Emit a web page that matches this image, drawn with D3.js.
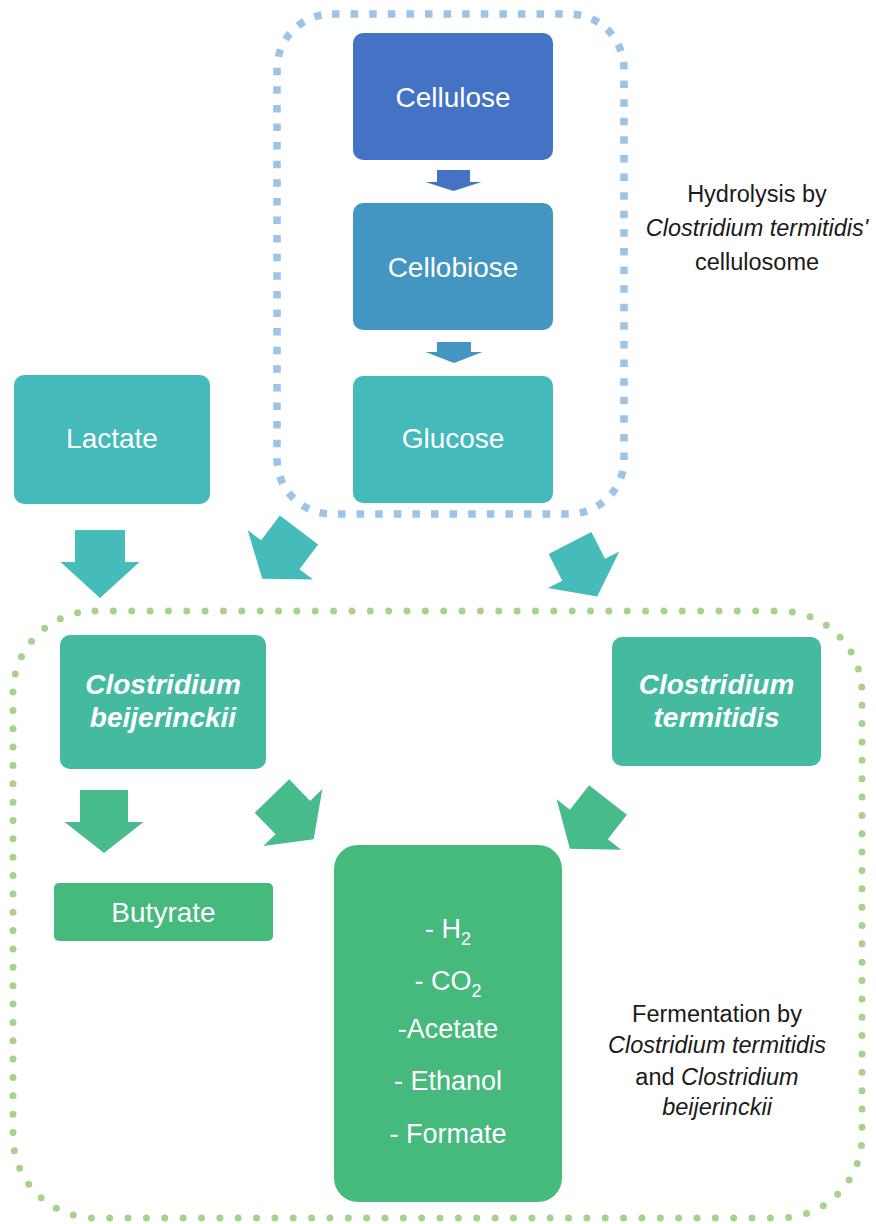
<!DOCTYPE html>
<html>
<head>
<meta charset="utf-8">
<script src="https://cdn.jsdelivr.net/npm/d3@7"></script>
<style>
  html, body { margin: 0; padding: 0; background: #ffffff; }
  svg { display: block; font-family: "Liberation Sans", Arial, sans-serif; }
</style>
</head>
<body>
<svg id="chart" width="876" height="1224"></svg>
<script>
// ---- content ----
const boxIds = ["cellulose", "cellobiose", "glucose", "lactate", "beij", "term", "butyrate", "products"];
const boxLines = [
  ["Cellulose"], ["Cellobiose"], ["Glucose"], ["Lactate"],
  ["Clostridium", "beijerinckii"], ["Clostridium", "termitidis"], ["Butyrate"], []
];
const productLines = [["- H", "2"], ["- CO", "2"], ["-Acetate", ""], ["- Ethanol", ""], ["- Formate", ""]];
const hydrolysisNote = [[["Hydrolysis by", false]], [["Clostridium termitidis'", true]], [["cellulosome", false]]];
const fermentationNote = [
  [["Fermentation by", false]],
  [["Clostridium termitidis", true]],
  [["and ", false], ["Clostridium", true]],
  [["beijerinckii", true]]
];

// ---- layout / style ----
const boxLayout = {
  cellulose:  {x: 353, y: 33,  w: 200, h: 127, r: 10, fill: "#4472C4", font: 28, italic: false, lineY: [107]},
  cellobiose: {x: 353, y: 203, w: 200, h: 127, r: 10, fill: "#4396C1", font: 28, italic: false, lineY: [277]},
  glucose:    {x: 353, y: 376, w: 200, h: 127, r: 10, fill: "#44BABB", font: 28, italic: false, lineY: [448]},
  lactate:    {x: 14,  y: 375, w: 196, h: 129, r: 10, fill: "#44BABB", font: 28, italic: false, lineY: [448]},
  beij:       {x: 60,  y: 635, w: 206, h: 134, r: 10, fill: "#44BA9F", font: 28, italic: true,  lineY: [694, 727]},
  term:       {x: 612, y: 637, w: 209, h: 129, r: 10, fill: "#44BA9F", font: 28, italic: true,  lineY: [694, 727]},
  butyrate:   {x: 54,  y: 883, w: 219, h: 58,  r: 5,  fill: "#46B97D", font: 28, italic: false, lineY: [922]},
  products:   {x: 334, y: 845, w: 228, h: 357, r: 24, fill: "#46B97D", font: 27, italic: false, lineY: []}
};
const productBaselines = [938, 990, 1038, 1090, 1143];

// arrows: tail point, rotation (deg), dims
const arrows = [
  {tx: 453.5, ty: 170, rot: 0,   bw: 16.5, hw: 28, bl: 12, L: 21, fill: "#4472C4"},
  {tx: 454,   ty: 342, rot: 0,   bw: 17,   hw: 28.5, bl: 10, L: 21, fill: "#4396C1"},
  {tx: 100,   ty: 530, rot: 0,   bw: 25,   hw: 39.5, bl: 32, L: 68, fill: "#45BCB9"},
  {tx: 299,   ty: 530, rot: 37,  bw: 24,   hw: 41,   bl: 31, L: 61, fill: "#45BCB9"},
  {tx: 570,   ty: 543, rot: -27, bw: 24,   hw: 40,   bl: 30, L: 60, fill: "#45BCB9"},
  {tx: 104,   ty: 790, rot: 0,   bw: 24,   hw: 39.5, bl: 32, L: 63, fill: "#47BB8B"},
  {tx: 272,   ty: 796, rot: -44, bw: 24,   hw: 41,   bl: 30, L: 60, fill: "#47BB8B"},
  {tx: 608,   ty: 800, rot: 38,  bw: 24,   hw: 41,   bl: 31, L: 62, fill: "#47BB8B"}
];

const svg = d3.select("#chart");
svg.append("rect").attr("width", 876).attr("height", 1224).attr("fill", "#ffffff");

// dotted containers (periods fitted to perimeter so the pattern closes evenly)
function perim(w, h, r) { return 2 * (w - 2 * r) + 2 * (h - 2 * r) + 2 * Math.PI * r; }
const bP = perim(347, 500, 55), bPer = bP / Math.round(bP / 18.5);
svg.append("rect")
  .attr("x", 277).attr("y", 14).attr("width", 347).attr("height", 500)
  .attr("rx", 55).attr("ry", 55)
  .attr("fill", "none").attr("stroke", "#9DC3E6").attr("stroke-width", 7.5)
  .attr("stroke-dasharray", `7.5 ${bPer - 7.5}`);

const gP = perim(849, 607, 82), gPer = gP / Math.round(gP / 18.4);
svg.append("rect")
  .attr("x", 13).attr("y", 611).attr("width", 849).attr("height", 607)
  .attr("rx", 82).attr("ry", 82)
  .attr("fill", "none").attr("stroke", "#A9D18E").attr("stroke-width", 7)
  .attr("stroke-linecap", "round")
  .attr("stroke-dasharray", `0 ${gPer}`);

// arrows
const arrowPath = a => {
  const pts = [[-a.bw, 0], [a.bw, 0], [a.bw, a.bl], [a.hw, a.bl], [0, a.L], [-a.hw, a.bl], [-a.bw, a.bl]];
  return "M" + pts.map(p => p.join(",")).join("L") + "Z";
};
svg.append("g").selectAll("path").data(arrows).join("path")
  .attr("d", arrowPath)
  .attr("transform", a => `translate(${a.tx},${a.ty}) rotate(${a.rot})`)
  .attr("fill", d => d.fill);

// boxes
const boxes = boxIds.map((id, i) => Object.assign({id, lines: boxLines[i]}, boxLayout[id]));
const bg = svg.append("g").selectAll("g").data(boxes).join("g");
bg.append("rect")
  .attr("x", d => d.x).attr("y", d => d.y).attr("width", d => d.w).attr("height", d => d.h)
  .attr("rx", d => d.r).attr("ry", d => d.r)
  .attr("fill", d => d.fill);
bg.each(function(d) {
  const g = d3.select(this);
  d.lines.forEach((ln, j) => {
    g.append("text")
      .attr("x", d.x + d.w / 2).attr("y", d.lineY[j])
      .attr("text-anchor", "middle")
      .attr("fill", "#ffffff")
      .attr("font-size", d.font)
      .attr("font-weight", d.italic ? "bold" : "normal")
      .attr("font-style", d.italic ? "italic" : "normal")
      .text(ln);
  });
});

// product list
const pb = boxLayout.products;
const pt = svg.append("g");
productLines.forEach((p, i) => {
  const t = pt.append("text")
    .attr("x", pb.x + pb.w / 2).attr("y", productBaselines[i])
    .attr("text-anchor", "middle").attr("fill", "#ffffff").attr("font-size", pb.font);
  t.append("tspan").text(p[0]);
  if (p[1]) t.append("tspan").attr("font-size", 18).attr("dy", 7).text(p[1]);
});

// notes
function drawNote(lines, cx, baselines) {
  const g = svg.append("g");
  lines.forEach((segs, i) => {
    const t = g.append("text")
      .attr("x", cx).attr("y", baselines[i])
      .attr("text-anchor", "middle").attr("fill", "#1a1a1a").attr("font-size", 23.5);
    segs.forEach(s => t.append("tspan").attr("font-style", s[1] ? "italic" : "normal").text(s[0]));
  });
}
drawNote(hydrolysisNote, 757, [202, 236, 270]);
drawNote(fermentationNote, 717, [1022, 1053, 1085, 1115]);
</script>
</body>
</html>
